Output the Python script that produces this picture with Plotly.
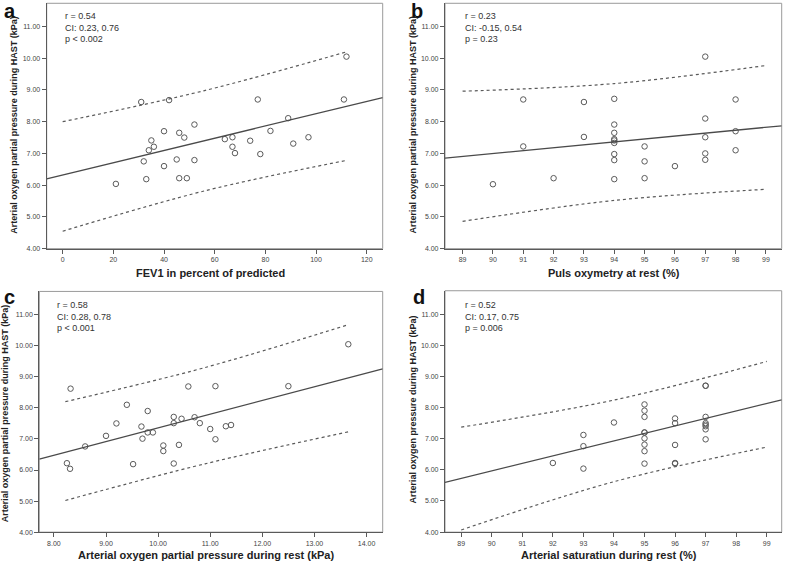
import plotly.graph_objects as go

W, H = 785, 562

# ---------------- data ----------------
# Panel a: FEV1 % predicted vs PaO2 during HAST
a_x = [21, 31, 42, 77, 111, 112, 89, 52, 40, 46, 48, 82, 35, 36, 34, 64, 67, 74, 97, 91,
       67, 68, 78, 32, 45, 52, 40, 33, 46, 49]
a_y = [6.04, 8.62, 8.68, 8.70, 8.70, 10.05, 8.11, 7.91, 7.70, 7.65, 7.50, 7.71, 7.41, 7.21, 7.10,
       7.45, 7.51, 7.40, 7.51, 7.31, 7.21, 7.01, 6.98, 6.75, 6.81, 6.79, 6.60, 6.19, 6.22, 6.22]
a_fit_x = [-6.3, 126.3]
a_fit_y = [6.20, 8.76]
a_band_x = [0, 56, 112]
a_upper = [8.00, 8.98, 10.20]
a_lower = [4.55, 5.82, 6.78]

# Panel b: pulse oximetry at rest vs PaO2 during HAST
b_x = [90, 91, 91, 92, 93, 93, 94, 94, 94, 94, 94, 94, 94, 94, 94, 95, 95, 95, 96,
       97, 97, 97, 97, 97, 98, 98, 98]
b_y = [6.03, 8.70, 7.22, 6.22, 8.62, 7.52, 8.72, 7.91, 7.65, 7.45, 7.41, 7.33, 6.98, 6.79, 6.19,
       7.22, 6.75, 6.22, 6.60, 10.05, 8.10, 7.51, 7.00, 6.80, 8.70, 7.70, 7.10]
b_fit_x = [88.42, 99.52]
b_fit_y = [6.85, 7.87]
b_band_x = [89, 94, 99]
b_upper = [8.96, 9.20, 9.77]
b_lower = [4.86, 5.52, 5.87]

# Panel c: PaO2 at rest vs PaO2 during HAST
c_x = [8.32, 8.25, 8.31, 8.60, 9.00, 9.20, 9.40, 9.52, 9.68, 9.70, 9.80, 9.80, 9.90, 10.10, 10.10,
       10.30, 10.30, 10.30, 10.40, 10.45, 10.58, 10.70, 10.80, 11.00, 11.10, 11.10, 11.30, 11.40,
       12.50, 13.65]
c_y = [8.62, 6.22, 6.04, 6.76, 7.10, 7.50, 8.10, 6.19, 7.40, 7.01, 7.90, 7.21, 7.21, 6.79, 6.61,
       7.71, 7.51, 6.21, 6.81, 7.65, 8.69, 7.70, 7.51, 7.32, 8.70, 6.99, 7.41, 7.45, 8.70, 10.05]
c_fit_x = [7.72, 14.31]
c_fit_y = [6.35, 9.26]
c_band_x = [8.22, 10.9, 13.65]
c_upper = [8.20, 9.30, 10.68]
c_lower = [5.02, 6.20, 7.23]

# Panel d: arterial saturation at rest vs PaO2 during HAST
d_x = [92, 93, 93, 93, 94, 95, 95, 95, 95, 95, 95, 95, 95, 95, 96, 96, 96, 96, 96,
       97, 97, 97, 97, 97, 97, 97, 97]
d_y = [6.22, 7.12, 6.76, 6.04, 7.52, 8.10, 7.90, 7.70, 7.20, 7.20, 7.01, 6.81, 6.60, 6.20,
       7.65, 7.50, 6.80, 6.20, 6.22, 8.70, 8.70, 7.70, 7.50, 7.45, 7.40, 7.30, 6.98]
d_fit_x = [88.47, 99.49]
d_fit_y = [5.60, 8.25]
d_band_x = [89, 94, 99]
d_upper = [7.37, 8.24, 9.48]
d_lower = [4.07, 5.62, 6.73]

y_ticks = [4, 5, 6, 7, 8, 9, 10, 11]
a_xticks = [0, 20, 40, 60, 80, 100, 120]
b_xticks = [89, 90, 91, 92, 93, 94, 95, 96, 97, 98, 99]
c_xticks = [8, 9, 10, 11, 12, 13, 14]
d_xticks = [89, 90, 91, 92, 93, 94, 95, 96, 97, 98, 99]

panel_letters = ["a", "b", "c", "d"]
stats = [["r = 0.54", "CI: 0.23, 0.76", "p < 0.002"],
         ["r = 0.23", "CI: -0.15, 0.54", "p = 0.23"],
         ["r = 0.58", "CI: 0.28, 0.78", "p < 0.001"],
         ["r = 0.52", "CI: 0.17, 0.75", "p = 0.006"]]
x_titles = ["FEV1 in percent of predicted", "Puls oxymetry at rest (%)",
            "Arterial oxygen partial pressure during rest (kPa)", "Arterial saturatiun during rest (%)"]
y_titles = ["Arterial oxygen partial pressure during HAST (kPa)",
            "Arterial oxygen partial pressure during HAST (kPa)",
            "Arterial oxygen partial pressure during HAST (kPa)",
            "Arterial oxygen pressure during HAST (kPa)"]

# ---------------- layout helpers ----------------
def px(x):
    return x / W

def py(y):
    return 1 - y / H

DARK = "#4a4a4a"
MID = "#5a5a5a"
FONT = "Liberation Sans, Arial, sans-serif"

# panel boxes in pixels: (left, right, top, bottom)
boxes = [(46.7, 382.7, 3.3, 250.0),
         (445.0, 781.7, 3.3, 250.0),
         (39.3, 382.7, 293.0, 535.0),
         (445.0, 781.7, 292.3, 535.0)]
x_ranges = [[-6.3, 126.3], [88.42, 99.52], [7.72, 14.31], [88.47, 99.49]]
y_ranges = [[4, 11.73], [4, 11.73], [4, 11.75], [4, 11.75]]
x_tickvals = [a_xticks, b_xticks, c_xticks, d_xticks]
x_fmt = ["d", "d", ".2f", "d"]

panels = [
    (a_x, a_y, a_fit_x, a_fit_y, a_band_x, a_upper, a_lower),
    (b_x, b_y, b_fit_x, b_fit_y, b_band_x, b_upper, b_lower),
    (c_x, c_y, c_fit_x, c_fit_y, c_band_x, c_upper, c_lower),
    (d_x, d_y, d_fit_x, d_fit_y, d_band_x, d_upper, d_lower),
]

fig = go.Figure()
layout_axes = {}
shapes = []
annotations = []

letter_pos = [(2, 11.5), (409, 11.5), (2, 299), (411, 299)]
stats_pos = [(63.3, [16, 28, 39.5]), (463.3, [16, 28, 39.5]),
             (55.0, [306.7, 318.3, 330]), (463.3, [306.7, 318.3, 330])]
xt_pos = [(210.5, 274), (613.5, 274), (206, 557.5), (609, 557.5)]
yt_pos = [(14, 125.5), (412.7, 125.5), (4.5, 416), (412.7, 412)]

for i, (xs, ys, fx, fy, bx, up, lo) in enumerate(panels):
    n = "" if i == 0 else str(i + 1)
    xa, ya = "x" + n, "y" + n
    l, r, t, b = boxes[i]
    fig.add_trace(go.Scatter(x=xs, y=ys, mode="markers", xaxis=xa, yaxis=ya,
                             marker=dict(symbol="circle-open", size=5.5, color=MID,
                                         line=dict(width=1, color=MID)),
                             showlegend=False, hoverinfo="x+y"))
    fig.add_trace(go.Scatter(x=fx, y=fy, mode="lines", xaxis=xa, yaxis=ya,
                             line=dict(color=DARK, width=1.3), showlegend=False))
    for band in (up, lo):
        fig.add_trace(go.Scatter(x=bx, y=band, mode="lines", xaxis=xa, yaxis=ya,
                                 line=dict(color=MID, width=1.2, dash="3px,3px", shape="spline"),
                                 showlegend=False))
    common_tick = dict(ticks="outside", ticklen=4, tickwidth=1, tickcolor=MID,
                       showline=True, linecolor=MID, linewidth=1.2,
                       showgrid=False, zeroline=False,
                       tickfont=dict(family=FONT, size=7, color="#444444"))
    layout_axes["xaxis" + n] = dict(domain=[px(l), px(r)], range=x_ranges[i], anchor=ya,
                                    tickvals=x_tickvals[i], tickformat=x_fmt[i], **common_tick)
    layout_axes["yaxis" + n] = dict(domain=[py(b), py(t)], range=y_ranges[i], anchor=xa,
                                    tickvals=y_ticks, tickformat=".2f", **common_tick)
    # light frame around plot area
    shapes.append(dict(type="rect", xref=xa + " domain", yref=ya + " domain",
                       x0=0, x1=1, y0=0, y1=1, line=dict(color="#9a9a9a", width=1),
                       layer="below"))
    # panel letter
    lx, ly = letter_pos[i]
    annotations.append(dict(text="<b>%s</b>" % panel_letters[i], xref="paper", yref="paper",
                            x=px(lx), y=py(ly), xanchor="left", yanchor="middle",
                            showarrow=False, font=dict(family=FONT, size=20, color="#111111")))
    # stats
    sx, sys_ = stats_pos[i]
    for txt, yy in zip(stats[i], sys_):
        annotations.append(dict(text=txt, xref="paper", yref="paper", x=px(sx), y=py(yy),
                                xanchor="left", yanchor="middle", showarrow=False,
                                font=dict(family=FONT, size=9, color="#333333")))
    # axis titles
    tx, ty = xt_pos[i]
    annotations.append(dict(text="<b>%s</b>" % x_titles[i], xref="paper", yref="paper",
                            x=px(tx), y=py(ty), xanchor="center", yanchor="middle",
                            showarrow=False, font=dict(family=FONT, size=11, color="#222222")))
    vx, vy = yt_pos[i]
    annotations.append(dict(text="<b>%s</b>" % y_titles[i], xref="paper", yref="paper",
                            x=px(vx), y=py(vy), xanchor="center", yanchor="middle",
                            textangle=-90, showarrow=False,
                            font=dict(family=FONT, size=9, color="#222222")))

fig.update_layout(width=W, height=H, margin=dict(l=0, r=0, t=0, b=0),
                  paper_bgcolor="white", plot_bgcolor="white",
                  shapes=shapes, annotations=annotations, **layout_axes)

fig.write_html("out.html", config={"displayModeBar": False},
               post_script="document.body.style.margin='0px';")
